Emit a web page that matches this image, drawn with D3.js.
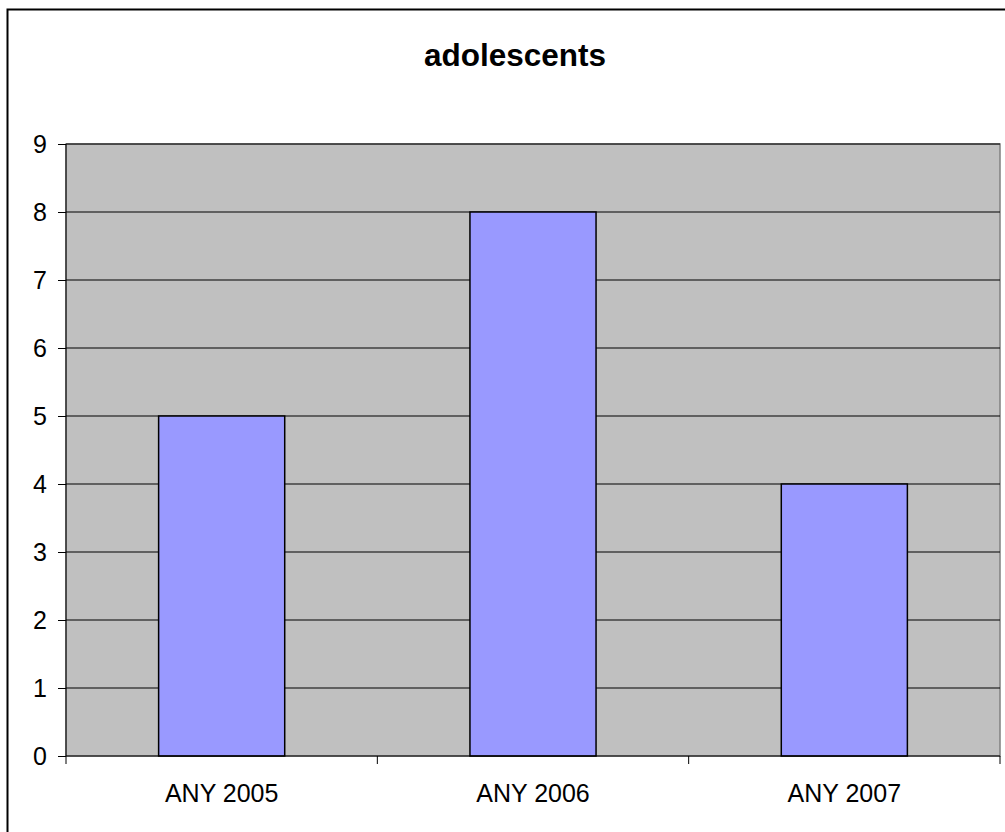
<!DOCTYPE html>
<html><head><meta charset="utf-8">
<script src="https://cdn.jsdelivr.net/npm/d3@7"></script>
<style>body{margin:0;background:#fff;}svg{display:block;}</style>
</head><body>
<svg id="c" width="1005" height="832"></svg>
<script>
const categories = ["ANY 2005", "ANY 2006", "ANY 2007"];
const values = [5, 8, 4];
const yTicks = [0,1,2,3,4,5,6,7,8,9];
const title = "adolescents";

const svg = d3.select("#c");
const m = {left:66, right:1000, top:144, bottom:756};
const font = "Liberation Sans, Arial, sans-serif";

svg.append("rect").attr("x",7.5).attr("y",9.5).attr("width",1005).attr("height",840)
  .attr("fill","#fff").attr("stroke","#000").attr("stroke-width",2);

const x = d3.scaleBand().domain(categories).range([m.left, m.right]).paddingInner(0.595).paddingOuter(0.2975);
const y = d3.scaleLinear().domain([0,9]).range([m.bottom, m.top]);

svg.append("rect").attr("x",m.left).attr("y",m.top).attr("width",m.right-m.left).attr("height",m.bottom-m.top)
  .attr("fill","#c0c0c0").attr("stroke","#808080").attr("stroke-width",1.5);

svg.append("g").selectAll("line").data(yTicks.filter(d=>d>0)).join("line")
  .attr("x1",m.left).attr("x2",m.right).attr("y1",d=>y(d)).attr("y2",d=>y(d))
  .attr("stroke","#000").attr("stroke-width",1);

svg.append("g").selectAll("rect").data(values).join("rect")
  .attr("x",(d,i)=>x(categories[i])).attr("width",x.bandwidth())
  .attr("y",d=>y(d)).attr("height",d=>y(0)-y(d))
  .attr("fill","#9999ff").attr("stroke","#000").attr("stroke-width",1.5);

// y axis
const ya = svg.append("g").attr("transform",`translate(${m.left},0)`)
  .call(d3.axisLeft(y).tickValues(yTicks).tickSize(8).tickPadding(11));
ya.select(".domain").attr("stroke","#000").attr("d",`M0,${m.top}V${m.bottom}`);
ya.selectAll("text").attr("font-family",font).attr("font-size",25).attr("fill","#000");

// x axis
const xb = d3.scaleLinear().domain([0,3]).range([m.left, m.right]);
const xa = svg.append("g").attr("transform",`translate(0,${m.bottom})`);
xa.append("line").attr("x1",m.left).attr("x2",m.right).attr("stroke","#000").attr("stroke-width",1);
xa.selectAll("line.t").data([0,1,2,3]).join("line").attr("class","t")
  .attr("x1",d=>xb(d)).attr("x2",d=>xb(d)).attr("y1",0).attr("y2",8).attr("stroke","#000");
xa.selectAll("text").data(categories).join("text")
  .attr("x",d=>x(d)+x.bandwidth()/2).attr("y",46).attr("text-anchor","middle")
  .attr("font-family",font).attr("font-size",25).attr("fill","#000").text(d=>d);

svg.append("text").attr("x",515).attr("y",66).attr("text-anchor","middle")
  .attr("font-family",font).attr("font-size",31.5).attr("font-weight","bold").text(title);
</script>
</body></html>
